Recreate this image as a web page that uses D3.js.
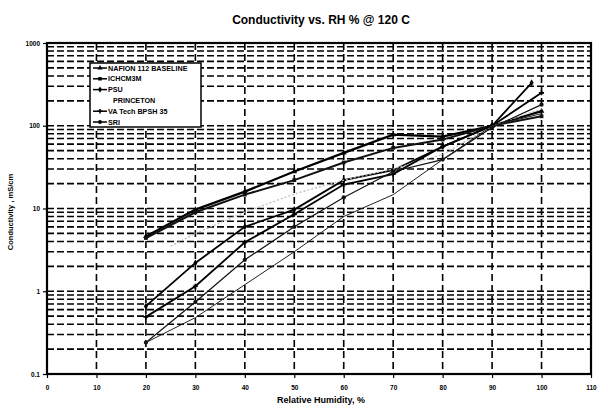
<!DOCTYPE html>
<html><head><meta charset="utf-8">
<script src="https://cdn.jsdelivr.net/npm/d3@7"></script>
<style>
html,body{margin:0;padding:0;background:#fff;}
svg{display:block;font-family:Arial,"Liberation Sans",sans-serif;}
</style></head>
<body>
<svg id="c" width="605" height="414"></svg>
<script>
const xTicks = [0,10,20,30,40,50,60,70,80,90,100,110];
const yTicks = [0.1,1,10,100,1000];
const yTickLabels = ["0.1","1","10","100","1000"];
const seriesNames = ["NAFION 112 BASELINE","ICHCM3M","PSU","PRINCETON","VA Tech BPSH 35","SRI",""];
const rh = [20,30,40,50,60,70,80,90,100];
const rhPrinceton = [25,30,40,50,60,70,80,90,100];
const rhHigh = [20,30,40,50,60,70,80,90,98];
const nafion    = [4.6,9.7,16,28,47,78,74,100,150];
const ichcm     = [4.4,9.0,14.7,22,36,54,68,100,130];
const psu       = [0.66,2.2,6.0,9.7,22,29,56,100,330];
const princeton = [3.5,5,9,15,22,30,45,100,160];
const vatech    = [0.49,1.15,3.9,8.5,19.5,26,56,100,250];
const sri       = [0.24,0.74,2.4,6.0,13.6,28,39,95,180];
const other     = [0.24,0.48,1.2,3.0,8.0,14.7,39,100,140];

const svg = d3.select("#c");
const L=47,R=591,T=43,B=374;
const x = d3.scaleLinear().domain([0,110]).range([L,R]);
const y = d3.scaleLog().domain([0.1,1000]).range([B,T]);

svg.append("text").attr("x",321).attr("y",24).attr("text-anchor","middle")
  .attr("font-size",12).attr("font-weight","bold").text("Conductivity vs. RH % @ 120 C");

// grid
const minor=[];
[0.1,1,10,100].forEach(d=>{for(let k=1;k<10;k++) minor.push(d*k);});
minor.push(1000);
svg.append("g").selectAll("line").data(minor).join("line")
  .attr("x1",L).attr("x2",R).attr("y1",d=>y(d)).attr("y2",d=>y(d))
  .attr("stroke","#000").attr("stroke-width",1.6).attr("stroke-dasharray","7,3");
svg.append("g").selectAll("line").data(xTicks.slice(1,-1)).join("line")
  .attr("x1",d=>x(d)).attr("x2",d=>x(d)).attr("y1",T).attr("y2",B)
  .attr("stroke","#000").attr("stroke-width",1.6).attr("stroke-dasharray","7,4");

// axes
const xa = svg.append("g").attr("transform",`translate(0,${B})`)
  .call(d3.axisBottom(x).tickValues(xTicks).tickSize(4).tickFormat(d3.format("d")));
const ya = svg.append("g").attr("transform",`translate(${L},0)`)
  .call(d3.axisLeft(y).tickValues(yTicks).tickSize(4).tickFormat((d,i)=>yTickLabels[i]));
[xa,ya].forEach(a=>{a.select(".domain").remove();
  a.selectAll("text").attr("font-size",6.5).attr("font-weight","bold").attr("font-family","Arial");
  a.selectAll("line").attr("stroke-width",1.2);});
xa.selectAll("text").attr("dy","1.4em");
svg.append("rect").attr("x",L).attr("y",T).attr("width",R-L).attr("height",B-T)
  .attr("fill","none").attr("stroke","#000").attr("stroke-width",2.2);

svg.append("text").attr("x",321).attr("y",403).attr("text-anchor","middle")
  .attr("font-size",9).attr("font-weight","bold").text("Relative Humidity, %");
svg.append("text").attr("transform","translate(13,212) rotate(-90)").attr("text-anchor","middle")
  .attr("font-size",7.5).attr("font-weight","bold").text("Conductivity , mS/cm");

// series
const series = [
 {name:seriesNames[0], xs:rh, ys:nafion, color:"#000", w:2.2, dash:null, sym:d3.symbolTriangle},
 {name:seriesNames[1], xs:rh, ys:ichcm, color:"#111", w:2.0, dash:null, sym:d3.symbolSquare},
 {name:seriesNames[2], xs:rhHigh, ys:psu, color:"#000", w:1.8, dash:null, sym:d3.symbolDiamond},
 {name:seriesNames[3], xs:rhPrinceton, ys:princeton, color:"#bbb", w:1.2, dash:"2,2", sym:null},
 {name:seriesNames[4], xs:rh, ys:vatech, color:"#000", w:1.8, dash:null, sym:d3.symbolCross},
 {name:seriesNames[5], xs:rh, ys:sri, color:"#111", w:1.2, dash:null, sym:d3.symbolCircle},
 {name:seriesNames[6], xs:rh, ys:other, color:"#222", w:1.0, dash:null, sym:null}
];
const line = d3.line().x(d=>x(d[0])).y(d=>y(d[1]));
series.forEach(s=>{
  const pts = s.xs.map((v,i)=>[v,s.ys[i]]);
  svg.append("path").datum(pts).attr("d",line).attr("fill","none")
    .attr("stroke",s.color).attr("stroke-width",s.w).attr("stroke-dasharray",s.dash);
  if(s.sym){
    svg.append("g").selectAll("path").data(pts).join("path")
      .attr("transform",d=>`translate(${x(d[0])},${y(d[1])})`)
      .attr("d",d3.symbol().type(s.sym).size(14)).attr("fill",s.color);
  }
});

// legend
const lg = svg.append("g");
lg.append("rect").attr("x",90).attr("y",63).attr("width",111).attr("height",64)
  .attr("fill","#fff").attr("stroke","#000").attr("stroke-width",1.5);
const legItems = series.filter(s=>s.name);
legItems.forEach((s,i)=>{
  const yy = 68 + i*10.8;
  if(s.color !== "#bbb"){
    lg.append("line").attr("x1",93).attr("x2",107).attr("y1",yy).attr("y2",yy)
      .attr("stroke","#000").attr("stroke-width",1.5);
    if(s.sym) lg.append("path").attr("transform",`translate(100,${yy})`)
      .attr("d",d3.symbol().type(s.sym).size(12)).attr("fill","#000");
  }
  lg.append("text").attr("x", s.color==="#bbb"?113:108).attr("y",yy+2.5)
    .attr("font-size",7.2).attr("font-weight","bold").text(s.name);
});
</script>
</body></html>
